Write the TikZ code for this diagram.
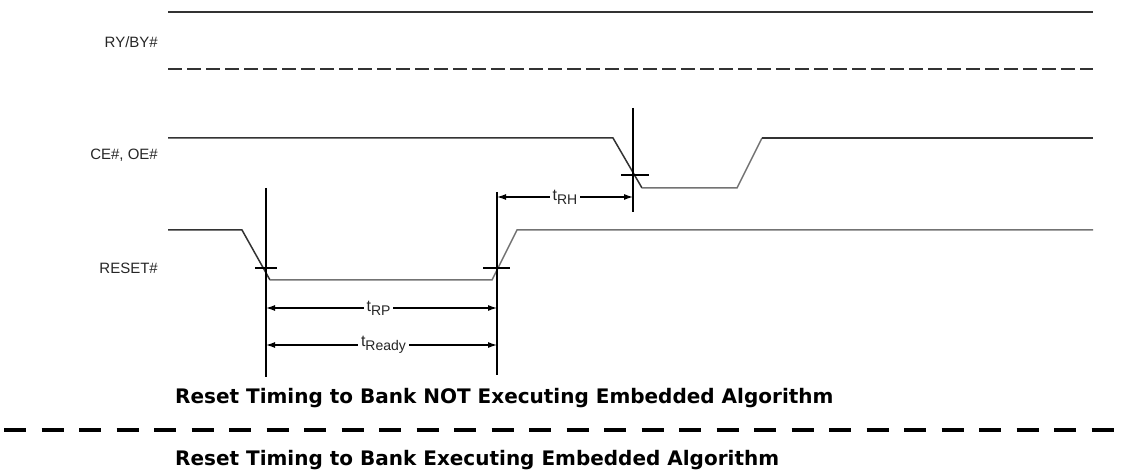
\documentclass[tikz,border=0pt]{standalone}
\usepackage{fontspec}
\setmainfont{Liberation Sans}
\newfontfamily\capfont{DejaVu Sans}
\usetikzlibrary{arrows.meta}
\newcommand{\tsub}[2]{#1\raisebox{-0.5ex}{\fontsize{14}{15}\selectfont #2}}
\tikzset{
  sighigh/.style={line width=1.5pt, draw=black!80, line join=miter},
  siglow/.style={line width=1.5pt, draw=black!55},
  vmark/.style={line width=1.2pt, draw=black},
  dimarrow/.style={line width=1.2pt, draw=black, {Latex[length=9pt,width=6pt]}-{Latex[length=9pt,width=6pt]}},
  siglabel/.style={font=\fontsize{15}{17}\selectfont, anchor=east, inner sep=0pt, text=black!85},
  dimlabel/.style={font=\fontsize{16}{18}\selectfont, fill=white, inner sep=3pt, text=black!85},
  caption/.style={font=\capfont\bfseries\fontsize{20}{23}\selectfont, anchor=base west, inner sep=0pt},
}
\begin{document}
\begin{tikzpicture}[x=1pt,y=-1pt]
\useasboundingbox (0,0) rectangle (1127,470);
% signal labels
\node[siglabel] (ry) at (158,42) {RY/BY\#};
\node[siglabel] (ce) at (158,155) {CE\#, OE\#};
\node[siglabel] (rst) at (158,268) {RESET\#};
% RY/BY#
\draw[sighigh] (168,12) -- (1093,12);
\draw[sighigh, dash pattern=on 14pt off 5pt] (168,69) -- (1093,69);
% CE#, OE#
\draw[sighigh] (168,138) -- (613,138) -- (642,188);
\draw[siglow] (642,188) -- (737,188) -- (762,138);
\draw[sighigh] (762,138) -- (1093,138);
% RESET#
\draw[sighigh] (168,230) -- (242,230) -- (270,280);
\draw[siglow] (270,280) -- (492,280) -- (517,230) -- (1093,230);
% vertical markers
\coordinate (v1t) at (266,188); \coordinate (v1b) at (266,377);
\coordinate (v2t) at (497,192); \coordinate (v2b) at (497,375);
\coordinate (v3t) at (633,108); \coordinate (v3b) at (633,212);
\draw[vmark] (v1t) -- (v1b);
\draw[vmark] (v2t) -- (v2b);
\draw[vmark] (v3t) -- (v3b);
\draw[vmark] (255,268) -- (277,268);
\draw[vmark] (483,268) -- (510,268);
\draw[vmark] (621,175) -- (649,175);
% dimension arrows
\coordinate (rh1) at (497,197); \coordinate (rh2) at (633,197);
\coordinate (rp1) at (266,308); \coordinate (rp2) at (497,308);
\coordinate (rd1) at (266,345); \coordinate (rd2) at (497,345);
\draw[dimarrow] (rh1) -- node[dimlabel] (trh) {\tsub{t}{RH}} (rh2);
\draw[dimarrow] (rp1) -- node[dimlabel, xshift=-3pt] (trp) {\tsub{t}{RP}} (rp2);
\draw[dimarrow] (rd1) -- node[dimlabel, xshift=2pt] (trd) {\tsub{t}{Ready}} (rd2);
% captions
\node[caption] (cap1) at (175,403) {Reset Timing to Bank NOT Executing Embedded Algorithm};
\draw[line width=3.2pt, dash pattern=on 22pt off 15.5pt] (4,430) -- (1127,430);
\node[caption] (cap2) at (175,465) {Reset Timing to Bank Executing Embedded Algorithm};
\end{tikzpicture}
\end{document}
